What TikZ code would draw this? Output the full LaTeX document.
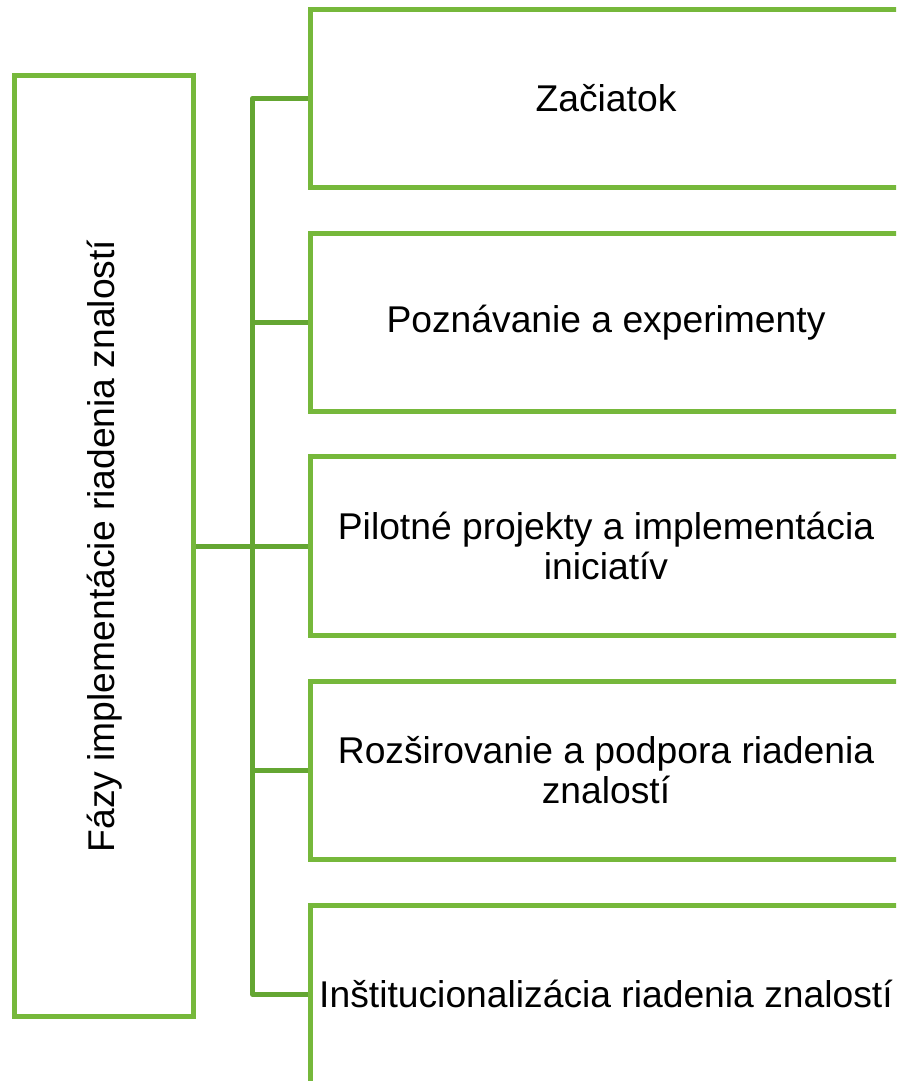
\documentclass[tikz,border=0pt]{standalone}
\usepackage{fontspec}
\setmainfont{Liberation Sans}
\definecolor{BoxGreen}{HTML}{76B83B}
\definecolor{LinkGreen}{HTML}{64A632}

\begin{document}
\begin{tikzpicture}[x=0.02cm,y=-0.02cm,every node/.style={font=\fontsize{21.2}{23}\selectfont, align=center}]
        \tikzset{
          phasebox/.style={draw=BoxGreen, line width=2.85pt, fill=white, inner sep=0pt, minimum width=11.82cm, minimum height=3.57cm},
          link/.style={draw=LinkGreen, line width=2.85pt, line join=round}
        }
        \clip (0,0) rectangle (896,1081);
        \node[draw=BoxGreen, line width=2.85pt, fill=white, rotate=90, minimum width=18.82cm, minimum height=3.59cm] (faze) at (104.25,546) {Fázy implementácie riadenia znalostí};
        \node[phasebox] (b1) at (606,98.25) {Začiatok};
        \node[phasebox] (b2) at (606,322.25) {Poznávanie a experimenty};
        \node[phasebox] (b3) at (606,546) {Pilotné projekty a implementácia\\iniciatív};
        \node[phasebox] (b4) at (606,770.25) {Rozširovanie a podpora riadenia\\znalostí};
        \node[phasebox] (b5) at (606,994.25) {Inštitucionalizácia riadenia znalostí};
        \coordinate (bus) at (252.5,546);
        \draw[link] (faze.south) -- (bus);
        \draw[link] (b1.west) -| (bus) |- (b5.west);
        \foreach \i in {2,3,4} {\draw[link] (bus |- b\i.west) -- (b\i.west);}
    \end{tikzpicture}
\end{document}
